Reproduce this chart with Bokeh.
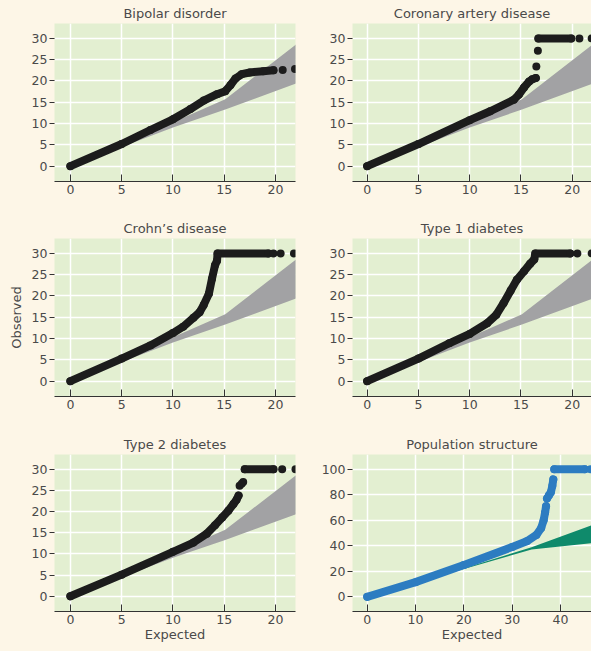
from bokeh.plotting import figure
from bokeh.layouts import column, row
from bokeh.models import Range1d, FixedTicker
from bokeh.embed import file_html
from bokeh.resources import INLINE

nan = float("nan")

# ---------------- data ----------------
titles = ["Bipolar disorder", "Coronary artery disease", "Crohn\u2019s disease",
          "Type 1 diabetes", "Type 2 diabetes", "Population structure"]

# shared null confidence band (grey panels)
band_x = [0, 5, 10, 15.1, 22]
band_lo = [0, 4.5, 9.1, 13.3, 19.4]
band_hi = [0, 5.1, 10.3, 15.7, 28.6]

# population-structure band (teal)
teal_x = [0, 20, 34, 46.4]
teal_lo = [0, 21.8, 37.0, 42.0]
teal_hi = [0, 22.4, 38.8, 56.0]

# dense runs of points (NaN = gap) and isolated points
bip_x = [0, 5, 7.8, 10, 11.7, 13.0, 14.3, 15.1, 15.6, 16.1, 16.7, 17.5, 18.8, 19.8]
bip_y = [0, 5.2, 8.5, 11.0, 13.4, 15.4, 16.9, 17.6, 19.0, 20.6, 21.6, 22.0, 22.3, 22.5]
bip_dx = [20.7, 21.9]
bip_dy = [22.6, 22.8]

cad_x = [0, 5, 10, 12, 14.3, 14.8, 15.3, 15.8, 16.1, 16.45, nan, 16.7, 19.9]
cad_y = [0, 5.2, 10.8, 12.9, 15.6, 16.8, 18.5, 19.9, 20.4, 20.7, nan, 30, 30]
cad_dx = [16.5, 16.65, 20.7, 21.9]
cad_dy = [23.4, 27.1, 30, 30]

cro_x = [0, 5, 7.8, 10, 11.0, 12.0, 12.6, 13.0, 13.5, 13.8, 14.1, 14.3, 14.35, 19.3]
cro_y = [0, 5.3, 8.4, 11.3, 12.8, 14.9, 16.2, 17.9, 20.5, 24.0, 27.2, 28.3, 30, 30]
cro_dx = [19.8, 20.5, 21.8]
cro_dy = [30, 30, 30]

t1d_x = [0, 5, 8, 10, 11.7, 12.6, 13.3, 14.0, 14.6, 15.3, 15.9, 16.3, 16.4, 19.8]
t1d_y = [0, 5.3, 8.9, 11.1, 13.6, 15.6, 18.3, 21.3, 23.8, 25.8, 27.6, 28.6, 30, 30]
t1d_dx = [20.5, 21.9]
t1d_dy = [30, 30]

t2d_x = [0, 5, 10, 12, 13.3, 14.1, 14.8, 15.4, 15.9, 16.2, 16.4, nan, 17.0, 19.8]
t2d_y = [0, 5.1, 10.5, 12.7, 14.8, 16.8, 18.6, 20.2, 21.8, 22.8, 23.8, nan, 30, 30]
t2d_dx = [16.5, 16.7, 16.85, 20.65, 21.95]
t2d_dy = [26.1, 26.6, 27.0, 30, 30]

pop_x = [0, 10, 20, 30, 33, 35, 36, 36.5, 36.8, 37.0, nan,
         37.2, 37.6, 38.0, 38.3, 38.5, nan, 38.7, 45.0]
pop_y = [0, 11.5, 25.0, 39.0, 43.5, 48.5, 54, 60, 66, 71, nan,
         77, 79.5, 82, 87, 92, nan, 100, 100]
pop_dx = [46.2]
pop_dy = [100]

ticks_30 = [0, 5, 10, 15, 20, 25, 30]
ticks_x22 = [0, 5, 10, 15, 20]
ticks_100 = [0, 20, 40, 60, 80, 100]
ticks_x40 = [0, 10, 20, 30, 40]

# ---------------- styling ----------------
CREAM = "#fdf6e7"
GREEN = "#e3efd1"
TEXT = "#4a4a4a"
FONT = "DejaVu Sans"


def make(title, col, rowi, xr, yr, xt, yt, series, dots, band, band_color, dot_color,
         ylabel=None, xlabel=None):
    width = 300 if col == 0 else 291
    heights = [215, 216, 220]
    bottoms = [34, 35, 40]
    p = figure(width=width, height=heights[rowi], output_backend="svg",
               toolbar_location=None, x_range=Range1d(*xr), y_range=Range1d(*yr),
               min_border_left=54 if col == 0 else 52,
               min_border_right=5 if col == 0 else 0,
               min_border_top=23, min_border_bottom=bottoms[rowi])
    p.title.text = title
    p.title.align = "center"
    p.title.text_font = FONT
    p.title.text_font_size = "13px"
    p.title.text_font_style = "normal"
    p.title.text_color = TEXT
    p.title.standoff = 6
    p.background_fill_color = GREEN
    p.border_fill_color = CREAM
    p.outline_line_color = None
    p.xaxis.ticker = FixedTicker(ticks=xt)
    p.yaxis.ticker = FixedTicker(ticks=yt)
    for ax in (p.xaxis, p.yaxis):
        ax.major_label_text_font = FONT
        ax.major_label_text_font_size = "12.5px"
        ax.major_label_text_color = TEXT
        ax.minor_tick_line_color = None
        ax.major_tick_line_color = "#333333"
        ax.axis_line_color = "#333333"
        ax.axis_label_text_font = FONT
        ax.axis_label_text_font_size = "13px"
        ax.axis_label_text_font_style = "normal"
        ax.axis_label_text_color = TEXT
    p.xaxis.major_tick_in = 7
    p.xaxis.major_tick_out = 0
    p.xaxis.major_label_standoff = 3
    p.yaxis.major_tick_in = 0
    p.yaxis.major_tick_out = 5
    p.yaxis.major_label_standoff = 2
    p.yaxis.axis_line_color = None
    if ylabel:
        p.yaxis.axis_label = ylabel
        p.yaxis.axis_label_standoff = 5
    if xlabel:
        p.xaxis.axis_label = xlabel
        p.xaxis.axis_label_standoff = 0
    p.grid.grid_line_color = "white"
    p.grid.grid_line_width = 1.5
    bx, blo, bhi = band
    p.varea(x=bx, y1=blo, y2=bhi, fill_color=band_color, fill_alpha=1.0)
    sx, sy = series
    p.line(sx, sy, line_width=8, line_color=dot_color, line_cap="round", line_join="round")
    p.scatter(sx, sy, size=8, fill_color=dot_color, line_color=None)
    dx, dy = dots
    p.scatter(dx, dy, size=8, fill_color=dot_color, line_color=None)
    return p


XL = (-1.55, 21.95)
XR = (-1.43, 21.88)
YR = (-3.6, 33.5)
BLACK = "#1c1c1c"
GREY = "#a2a2a4"
BLUE = "#2c7cc1"
TEAL = "#0f8a6b"
gb = (band_x, band_lo, band_hi)

p1 = make(titles[0], 0, 0, XL, YR, ticks_x22, ticks_30, (bip_x, bip_y), (bip_dx, bip_dy), gb, GREY, BLACK)
p2 = make(titles[1], 1, 0, XR, YR, ticks_x22, ticks_30, (cad_x, cad_y), (cad_dx, cad_dy), gb, GREY, BLACK)
p3 = make(titles[2], 0, 1, XL, YR, ticks_x22, ticks_30, (cro_x, cro_y), (cro_dx, cro_dy), gb, GREY, BLACK,
          ylabel="Observed")
p4 = make(titles[3], 1, 1, XR, YR, ticks_x22, ticks_30, (t1d_x, t1d_y), (t1d_dx, t1d_dy), gb, GREY, BLACK)
p5 = make(titles[4], 0, 2, XL, YR, ticks_x22, ticks_30, (t2d_x, t2d_y), (t2d_dx, t2d_dy), gb, GREY, BLACK,
          xlabel="Expected")
p6 = make(titles[5], 1, 2, (-3.04, 46.4), (-11.5, 111.5), ticks_x40, ticks_100, (pop_x, pop_y),
          (pop_dx, pop_dy), (teal_x, teal_lo, teal_hi), TEAL, BLUE, xlabel="Expected")

layout = column(row(p1, p2, spacing=0), row(p3, p4, spacing=0), row(p5, p6, spacing=0), spacing=0)
layout.styles = {"background-color": CREAM}

html = file_html(layout, INLINE)
html = html.replace("</head>", "<style>html,body{background:%s;}</style></head>" % CREAM, 1)
open("out.html", "w").write(html)
